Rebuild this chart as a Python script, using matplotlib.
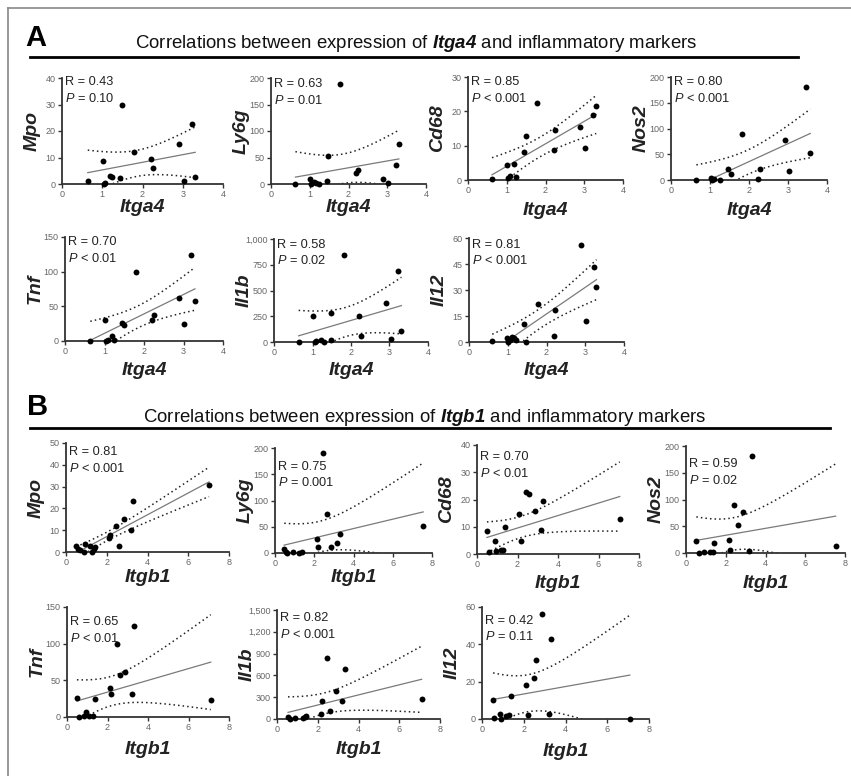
import numpy as np
import matplotlib.pyplot as plt
from matplotlib.ticker import FuncFormatter
from matplotlib.lines import Line2D

plt.rcParams['font.family'] = ['Liberation Sans', 'DejaVu Sans']
plt.rcParams['mathtext.fontset'] = 'custom'
plt.rcParams['mathtext.rm'] = 'Liberation Sans'
plt.rcParams['mathtext.it'] = 'Liberation Sans:italic'
plt.rcParams['mathtext.bf'] = 'Liberation Sans:bold'
plt.rcParams['mathtext.bfit'] = 'Liberation Sans:italic:bold'

# ---- data ----
# A: Itga4 vs markers
a_mpo_x = [0.64, 1.02, 1.04, 1.08, 1.20, 1.25, 1.45, 1.49, 1.80, 2.21, 2.25, 2.90, 3.02, 3.22, 3.31]
a_mpo_y = [1.0, 8.5, 0.0, 0.3, 3.0, 2.8, 2.1, 30.0, 12.0, 9.6, 6.2, 15.0, 1.2, 22.6, 2.5]
a_ly6g_x = [0.63, 1.00, 1.04, 1.10, 1.17, 1.25, 1.44, 1.47, 1.79, 2.20, 2.24, 2.88, 3.01, 3.22, 3.30]
a_ly6g_y = [0, 10, 0, 3, 2, 0, 5, 52, 188, 20, 26, 10, 2, 36, 76]
a_cd68_x = [0.62, 1.01, 1.03, 1.08, 1.19, 1.25, 1.44, 1.49, 1.79, 2.22, 2.25, 2.89, 3.03, 3.23, 3.31]
a_cd68_y = [0.4, 4.3, 0.7, 1.1, 4.6, 0.9, 8.3, 12.8, 22.4, 8.8, 14.5, 15.3, 9.4, 19.0, 21.5]
a_nos2_x = [0.65, 1.03, 1.06, 1.10, 1.25, 1.47, 1.53, 1.81, 2.24, 2.28, 2.92, 3.03, 3.47, 3.57]
a_nos2_y = [0, 4.6, 0, 1, 0, 21, 11, 90, 2.6, 21, 78, 17, 181, 52]
a_tnf_x = [0.64, 1.02, 1.04, 1.08, 1.19, 1.25, 1.44, 1.50, 1.79, 2.21, 2.25, 2.88, 3.00, 3.20, 3.29]
a_tnf_y = [0, 31, 0, 1, 7, 1, 26, 23, 99, 31, 38, 62, 24, 124, 57]
a_il1b_x = [0.64, 1.01, 1.06, 1.10, 1.23, 1.31, 1.47, 1.49, 1.81, 2.21, 2.26, 2.90, 3.05, 3.23, 3.31]
a_il1b_y = [0, 251, 0, 7, 16, 0, 23, 277, 840, 251, 55, 381, 33, 690, 107]
a_il12_x = [0.60, 0.99, 1.00, 1.05, 1.10, 1.16, 1.22, 1.43, 1.48, 1.78, 2.19, 2.23, 2.88, 3.01, 3.22, 3.29]
a_il12_y = [0.4, 2.3, 0, 1, 2.7, 2.3, 1, 10.6, 0, 22, 3.3, 18.7, 56, 12.3, 43, 31.7]

# B: Itgb1 vs markers
b_mpo_x = [0.50, 0.57, 0.67, 0.90, 0.94, 1.19, 1.27, 1.35, 1.43, 2.12, 2.17, 2.46, 2.60, 2.87, 3.18, 3.31, 7.02]
b_mpo_y = [2.6, 1.4, 0.8, 0, 3.6, 2.9, 0, 1.4, 2.1, 6.4, 7.9, 12, 2.9, 15.2, 9.9, 23.4, 30.7]
b_ly6g_x = [0.47, 0.56, 0.63, 0.93, 1.24, 1.36, 2.12, 2.20, 2.46, 2.63, 2.85, 3.17, 3.30, 7.55]
b_ly6g_y = [7.6, 2, 0, 1.3, 0, 2, 26.7, 10.8, 190, 74, 11.4, 19, 36, 52]
b_cd68_x = [0.49, 0.61, 0.90, 0.95, 1.20, 1.28, 1.39, 2.08, 2.18, 2.43, 2.57, 2.87, 3.16, 3.28, 7.05]
b_cd68_y = [8.5, 0.6, 4.9, 1.0, 1.3, 1.6, 9.8, 14.6, 4.6, 22.9, 22.1, 15.6, 8.9, 19.3, 12.9]
b_nos2_x = [0.52, 0.64, 0.92, 1.22, 1.36, 1.39, 2.14, 2.19, 2.44, 2.64, 2.86, 3.18, 3.31, 7.53]
b_nos2_y = [23, 0, 1.2, 1.2, 1.2, 18.6, 23.6, 6.2, 90, 51.6, 76, 4.3, 182, 13.7]
b_tnf_x = [0.49, 0.61, 0.85, 0.95, 1.07, 1.28, 1.39, 2.13, 2.16, 2.46, 2.62, 2.87, 3.20, 3.31, 7.10]
b_tnf_y = [26.5, 0, 1.4, 6.8, 1.4, 1.4, 24, 39, 31, 100, 57.5, 62, 31, 124, 23]
b_il1b_x = [0.54, 0.62, 0.90, 1.27, 1.39, 1.44, 2.17, 2.20, 2.45, 2.61, 2.89, 3.19, 3.32, 7.10]
b_il1b_y = [23, 0, 9, 9, 32, 46, 64, 252, 835, 110, 385, 252, 688, 275]
b_il12_x = [0.53, 0.59, 0.88, 0.93, 1.17, 1.28, 1.39, 2.12, 2.20, 2.48, 2.60, 2.87, 3.19, 3.32, 7.08]
b_il12_y = [10.4, 0.5, 2.7, 0.2, 1.8, 2.3, 12.5, 18.4, 2.0, 22, 31.4, 56, 2.9, 43, 0.2]

# reported statistics
a_r = ['0.43', '0.63', '0.85', '0.80', '0.70', '0.58', '0.81']
a_p = ['= 0.10', '= 0.01', '< 0.001', '< 0.001', '< 0.01', '= 0.02', '< 0.001']
b_r = ['0.81', '0.75', '0.70', '0.59', '0.65', '0.82', '0.42']
b_p = ['< 0.001', '= 0.001', '< 0.01', '= 0.02', '< 0.01', '< 0.001', '= 0.11']

markers = ['Mpo', 'Ly6g', 'Cd68', 'Nos2', 'Tnf', 'Il1b', 'Il12']
a_data = [(a_mpo_x, a_mpo_y), (a_ly6g_x, a_ly6g_y), (a_cd68_x, a_cd68_y), (a_nos2_x, a_nos2_y),
          (a_tnf_x, a_tnf_y), (a_il1b_x, a_il1b_y), (a_il12_x, a_il12_y)]
b_data = [(b_mpo_x, b_mpo_y), (b_ly6g_x, b_ly6g_y), (b_cd68_x, b_cd68_y), (b_nos2_x, b_nos2_y),
          (b_tnf_x, b_tnf_y), (b_il1b_x, b_il1b_y), (b_il12_x, b_il12_y)]
a_yticks = [[0, 10, 20, 30, 40], [0, 50, 100, 150, 200], [0, 10, 20, 30], [0, 50, 100, 150, 200],
            [0, 50, 100, 150], [0, 250, 500, 750, 1000], [0, 15, 30, 45, 60]]
b_yticks = [[0, 10, 20, 30, 40, 50], [0, 50, 100, 150, 200], [0, 10, 20, 30, 40], [0, 50, 100, 150, 200],
            [0, 50, 100, 150], [0, 300, 600, 900, 1200, 1500], [0, 20, 40, 60]]

# ---- layout (pixels in an 851 x 776 canvas) ----
W, H = 851, 776
# (left, right, top, bottom), y of "R" line, y of x label
a_boxes = [((62, 223, 78, 184), 82, 208), ((271, 426, 78, 184), 84, 208),
           ((468, 623, 77, 180), 82, 211), ((671, 827, 77, 180), 82, 211),
           ((65, 223, 237, 341), 242, 370), ((274, 428, 239, 342), 245, 370),
           ((469, 624, 238, 342), 245, 370)]
b_boxes = [((66, 229, 443, 552), 452, 578), ((275, 432, 448, 553), 467, 578),
           ((477, 639, 445, 554), 457, 583), ((686, 845, 446, 553), 464, 583),
           ((67, 229, 607, 717), 622, 750), ((277, 440, 610, 719), 618, 750),
           ((482, 649, 607, 719), 621, 752)]

T975 = {10: 2.228, 11: 2.201, 12: 2.179, 13: 2.160, 14: 2.145, 15: 2.131, 16: 2.120, 17: 2.110}

fig = plt.figure(figsize=(W / 100, H / 100), dpi=100)


def fx(px):
    return px / W


def fy(py):
    return 1 - py / H


def panel(box, ty, xly, data, yt, xmax, xstep, xname, yname, r, p):
    l, rgt, t, b = box
    ax = fig.add_axes([fx(l), fy(b), (rgt - l) / W, (b - t) / H])
    x = np.array(data[0], float)
    y = np.array(data[1], float)
    n = len(x)
    slope, icpt = np.polyfit(x, y, 1)
    xs = np.linspace(x.min(), x.max(), 200)
    yh = slope * xs + icpt
    resid = y - (slope * x + icpt)
    s = np.sqrt(np.sum(resid ** 2) / (n - 2))
    sxx = np.sum((x - x.mean()) ** 2)
    band = T975[n - 2] * s * np.sqrt(1 / n + (xs - x.mean()) ** 2 / sxx)
    ax.plot(xs, yh, color='#7a7a7a', lw=0.9, zorder=2)
    ax.plot(xs, yh + band, color='#222', lw=1.1, ls=(0, (1, 2)), zorder=2)
    ax.plot(xs, yh - band, color='#222', lw=1.1, ls=(0, (1, 2)), zorder=2)
    ax.scatter(x, y, s=18, color='black', linewidths=0, clip_on=False, zorder=3)
    ax.set_xlim(0, xmax)
    ax.set_ylim(0, yt[-1])
    ax.set_xticks(np.arange(0, xmax + 0.01, xstep))
    ax.set_yticks(yt)
    ax.yaxis.set_major_formatter(FuncFormatter(lambda v, pos: f'{v:,.0f}'))
    for sp in ['top', 'right']:
        ax.spines[sp].set_visible(False)
    for sp in ['left', 'bottom']:
        ax.spines[sp].set_color('#333')
        ax.spines[sp].set_linewidth(1.3)
    ax.tick_params(direction='out', length=3, width=1, color='#333',
                   labelcolor='#666', labelsize=6.5, pad=1.5)
    ax.patch.set_alpha(0)
    fig.text(fx(l + 3), fy(ty), f'R = {r}', fontsize=9.2, va='center', ha='left', color='#222')
    fig.text(fx(l + 3), fy(ty + 16), f'$P$ {p}', fontsize=9.2, va='center', ha='left', color='#222')
    fig.text(fx((l + rgt) / 2), fy(xly), xname, fontsize=14, fontweight='bold', style='italic',
             ha='center', va='center', color='#222')
    fig.text(fx(l - 30), fy((t + b) / 2), yname, fontsize=14, fontweight='bold', style='italic',
             ha='center', va='center', rotation=90, color='#222')


for i in range(7):
    box, ty, xly = a_boxes[i]
    panel(box, ty, xly, a_data[i], a_yticks[i], 4, 1, 'Itga4', markers[i], a_r[i], a_p[i])
    box, ty, xly = b_boxes[i]
    panel(box, ty, xly, b_data[i], b_yticks[i], 8, 2, 'Itgb1', markers[i], b_r[i], b_p[i])

# section headers
fig.text(fx(25), fy(38), 'A', fontsize=21, fontweight='bold', ha='left', va='center')
fig.text(fx(416), fy(43), r'Correlations between expression of $\mathbfit{Itga4}$ and inflammatory markers',
         fontsize=13.4, ha='center', va='center', color='#111')
fig.add_artist(Line2D([fx(30), fx(798)], [fy(57), fy(57)], color='black', lw=2))
fig.text(fx(27), fy(407), 'B', fontsize=21, fontweight='bold', ha='left', va='center')
fig.text(fx(425), fy(417), r'Correlations between expression of $\mathbfit{Itgb1}$ and inflammatory markers',
         fontsize=13.4, ha='center', va='center', color='#111')
fig.add_artist(Line2D([fx(30), fx(830)], [fy(428), fy(428)], color='black', lw=2))

# frame (left and top edges visible in the source)
fig.add_artist(Line2D([fx(8), fx(8)], [fy(8), 0], color='#888', lw=1.2))
fig.add_artist(Line2D([fx(8), 1], [fy(8), fy(8)], color='#888', lw=1.2))

fig.savefig('out.png', dpi=100)
